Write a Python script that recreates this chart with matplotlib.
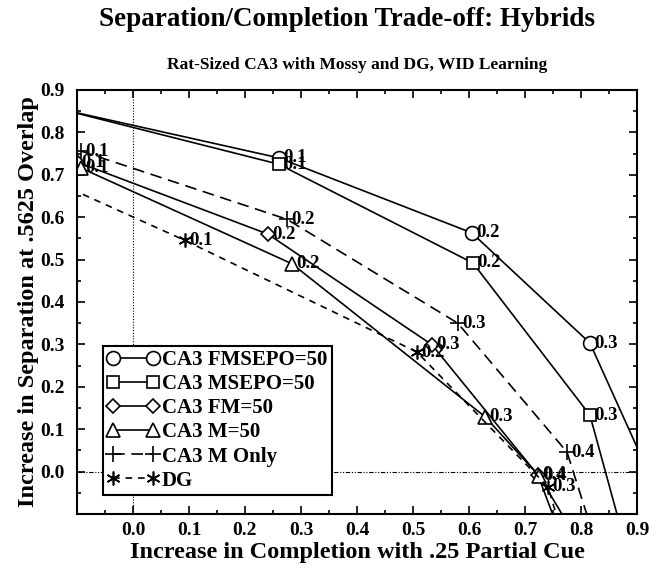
import matplotlib
matplotlib.use('Agg')
import matplotlib.pyplot as plt
from matplotlib.ticker import MultipleLocator

plt.rcParams['font.family'] = ['Liberation Serif', 'DejaVu Serif']
plt.rcParams['font.weight'] = 'bold'

# each series: x (completion), y (separation), point labels
fmsepo_x = [-0.13, 0.26, 0.605, 0.816, 0.93]
fmsepo_y = [0.855, 0.74, 0.563, 0.303, -0.03]
fmsepo_lab = ['', '0.1', '0.2', '0.3', '']

msepo_x = [-0.13, 0.26, 0.607, 0.816, 0.885]
msepo_y = [0.855, 0.725, 0.492, 0.133, -0.2]
msepo_lab = ['', '0.1', '0.2', '0.3', '']

fm_x = [-0.1, 0.241, 0.534, 0.723, 0.755]
fm_y = [0.73, 0.560, 0.299, -0.008, -0.12]
fm_lab = ['0.1', '0.2', '0.3', '0.4', '']

m_x = [-0.093, 0.284, 0.629, 0.725, 0.775]
m_y = [0.716, 0.49, 0.129, -0.01, -0.12]
m_lab = ['0.1', '0.2', '0.3', '0.4', '']

monly_x = [-0.093, 0.275, 0.58, 0.775, 0.815]
monly_y = [0.756, 0.595, 0.35, 0.046, -0.12]
monly_lab = ['0.1', '0.2', '0.3', '0.4', '']

dg_x = [-0.13, 0.093, 0.507, 0.741, 0.76]
dg_y = [0.678, 0.545, 0.282, -0.036, -0.12]
dg_lab = ['', '0.1', '0.2', '0.3', '']

series = [
    ('CA3 FMSEPO=50', fmsepo_x, fmsepo_y, fmsepo_lab, 'o', 10, '-'),
    ('CA3 MSEPO=50', msepo_x, msepo_y, msepo_lab, 's', 9, '-'),
    ('CA3 FM=50', fm_x, fm_y, fm_lab, 'D', 7.5, '-'),
    ('CA3 M=50', m_x, m_y, m_lab, '^', 10, '-'),
    ('CA3 M Only', monly_x, monly_y, monly_lab, '+', 12, (0, (7, 4))),
    ('DG', dg_x, dg_y, dg_lab, (6, 2, 0), 10, (0, (4, 3.5))),
]

fig = plt.figure(figsize=(6.49, 5.73), dpi=100)
ax = fig.add_axes([0.1186, 0.103, 0.8629, 0.740])

for name, xs, ys, labs, mk, ms, ls in series:
    ax.plot(xs, ys, color='black', linestyle=ls, linewidth=1.2,
            marker=mk, markersize=ms, markerfacecolor='white',
            markeredgecolor='black', markeredgewidth=1.2, label=name)
    for x, y, t in zip(xs, ys, labs):
        if t:
            ax.text(x + 0.008, y, t, fontsize=13.5, fontweight='bold',
                    ha='left', va='center')

ax.axvline(0, color='black', linestyle=(0, (1, 1.5)), linewidth=0.8)
ax.axhline(0, color='black', linestyle=(0, (4, 1.5, 1, 1.5, 1, 1.5)), linewidth=0.8)

ax.set_xlim(-0.1, 0.9)
ax.set_ylim(-0.1, 0.9)
ax.xaxis.set_minor_locator(MultipleLocator(0.05))
ax.yaxis.set_minor_locator(MultipleLocator(0.05))
ticks = [0.0, 0.1, 0.2, 0.3, 0.4, 0.5, 0.6, 0.7, 0.8, 0.9]
tick_labels = ['0.0', '0.1', '0.2', '0.3', '0.4', '0.5', '0.6', '0.7', '0.8', '0.9']
ax.set_xticks(ticks)
ax.set_yticks(ticks)
ax.set_xticklabels(tick_labels, fontsize=14, fontweight='bold')
ax.set_yticklabels(tick_labels, fontsize=14, fontweight='bold')
ax.tick_params(which='both', direction='in', top=True, right=True, width=1.2)
ax.tick_params(which='major', length=6)
ax.tick_params(which='minor', length=3)
ax.tick_params(axis='x', which='major', pad=6)
ax.tick_params(axis='y', which='major', pad=9)
for sp in ax.spines.values():
    sp.set_linewidth(1.5)

ax.set_xlabel('Increase in Completion with .25 Partial Cue', fontsize=17.5,
              fontweight='bold', labelpad=2)
ax.set_ylabel('Increase in Separation at .5625 Overlap', fontsize=17.5,
              fontweight='bold', labelpad=1)

fig.text(0.535, 0.966, 'Separation/Completion Trade-off: Hybrids', fontsize=19.5,
         fontweight='bold', ha='center', va='center')
fig.text(0.55, 0.886, 'Rat-Sized CA3 with Mossy and DG, WID Learning', fontsize=12.5,
         fontweight='bold', ha='center', va='center')

leg = ax.legend(loc='lower left', bbox_to_anchor=(0.046, 0.045), numpoints=2,
                handlelength=2.5, handletextpad=0.15, borderaxespad=0,
                borderpad=0.2, labelspacing=0.2, fontsize=15,
                fancybox=False, framealpha=1, edgecolor='black')
leg.get_frame().set_linewidth(1.5)

fig.savefig('out.png', dpi=100)
